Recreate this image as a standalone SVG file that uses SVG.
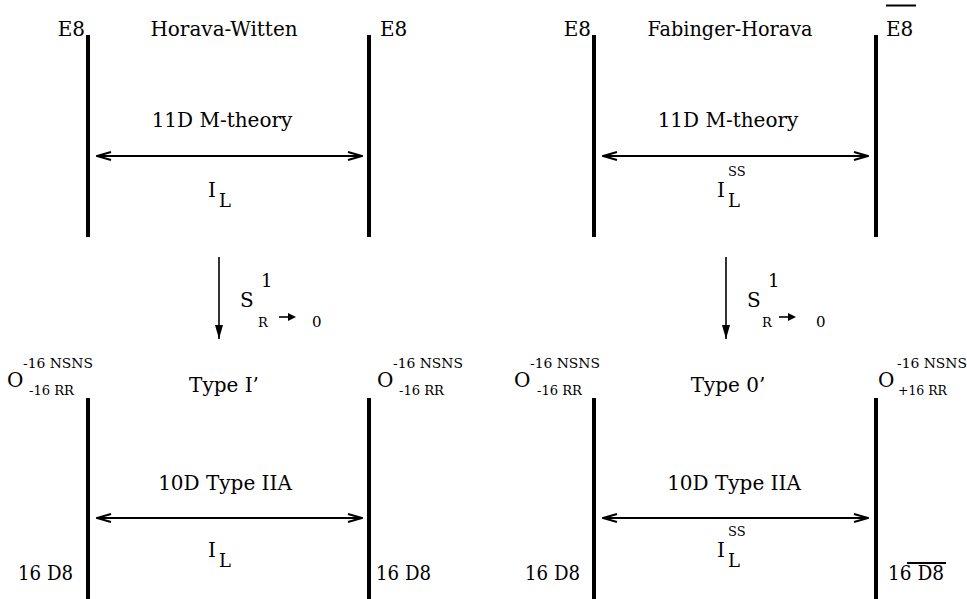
<svg xmlns="http://www.w3.org/2000/svg" width="967" height="599" viewBox="0 0 967 599">
  <style>
    .txt { font-family: "DejaVu Serif", serif; fill: #000; }
    .t { font-size: 20px; }
    .m { text-anchor: middle; }
    .e { text-anchor: end; }
    .s { font-size: 13px; }
    .sm { font-size: 15px; }
    .bar { stroke: #000; stroke-width: 4; }
    .conn { stroke: #000; stroke-width: 2; fill: none; }
    .down { stroke: #000; stroke-width: 1.6; fill: none; }
    .ol { stroke: #000; stroke-width: 2; }
  </style>
  <defs>
    <marker id="open" viewBox="0 0 16 10" refX="15" refY="5" markerWidth="16" markerHeight="10" markerUnits="userSpaceOnUse" orient="auto-start-reverse">
      <path d="M1,1 L15,5 L1,9" stroke="#000" stroke-width="2" fill="none"/>
    </marker>
    <marker id="solid" viewBox="0 0 8 14" refX="4" refY="14" markerWidth="8" markerHeight="14" markerUnits="userSpaceOnUse" orient="0">
      <path d="M0,0 L8,0 L4,14 Z" fill="#000"/>
    </marker>
    <marker id="small" viewBox="0 0 8 8" refX="0" refY="4" markerWidth="8" markerHeight="8" markerUnits="userSpaceOnUse" orient="auto">
      <path d="M0,0 L8,4 L0,8 Z" fill="#000"/>
    </marker>
  </defs>

  <g class="txt">
  <!-- Horava-Witten: M-theory on an interval -->
  <g id="hw-left-wall">
    <line class="bar" x1="88" y1="35" x2="88" y2="237"/>
    <text class="t e" x="85" y="36">E8</text>
  </g>
  <g id="hw-right-wall">
    <line class="bar" x1="369" y1="35" x2="369" y2="237"/>
    <text class="t" x="380" y="36">E8</text>
  </g>
  <g id="hw-bulk">
    <text class="t m" x="224" y="36">Horava-Witten</text>
    <text class="t m" x="222" y="127">11D M-theory</text>
    <text class="t" x="208" y="197">I</text>
    <text class="t" x="219" y="207" style="font-size:18px">L</text>
  </g>

  <!-- Fabinger-Horava: M-theory on an interval -->
  <g id="fh-left-wall">
    <line class="bar" x1="594" y1="35" x2="594" y2="237"/>
    <text class="t e" x="591" y="36">E8</text>
  </g>
  <g id="fh-right-wall">
    <line class="bar" x1="876" y1="35" x2="876" y2="237"/>
    <text class="t" x="886" y="36">E8</text>
    <line class="ol" x1="886" y1="5.5" x2="916" y2="5.5"/>
  </g>
  <g id="fh-bulk">
    <text class="t m" x="730" y="36" textLength="165" lengthAdjust="spacingAndGlyphs">Fabinger-Horava</text>
    <text class="t m" x="728" y="127">11D M-theory</text>
    <text class="t" x="717" y="197">I</text>
    <text class="s" x="728" y="176">SS</text>
    <text class="t" x="728" y="207" style="font-size:18px">L</text>
  </g>

  <!-- Reduction labels -->
  <g id="hw-reduction">
    <text class="t" x="240" y="307">S</text>
    <text class="sm" x="261" y="287" style="font-size:18px">1</text>
    <text class="s" x="258" y="327">R</text>
    <text class="sm" x="312" y="327">0</text>
  </g>
  <g id="fh-reduction">
    <text class="t" x="747" y="307">S</text>
    <text class="sm" x="768" y="287" style="font-size:18px">1</text>
    <text class="s" x="762" y="327">R</text>
    <text class="sm" x="816" y="327">0</text>
  </g>

  <!-- Type I': IIA on an interval -->
  <g id="ti-left-wall">
    <line class="bar" x1="88" y1="398" x2="88" y2="599"/>
    <text class="t" x="7" y="387">O</text>
    <text class="s" x="23" y="368" textLength="70" lengthAdjust="spacingAndGlyphs">-16 NSNS</text>
    <text class="s" x="29" y="395" textLength="45" lengthAdjust="spacingAndGlyphs">-16 RR</text>
    <text class="t" x="18" y="580" textLength="55" lengthAdjust="spacingAndGlyphs">16 D8</text>
  </g>
  <g id="ti-right-wall">
    <line class="bar" x1="369" y1="398" x2="369" y2="599"/>
    <text class="t" x="377" y="387">O</text>
    <text class="s" x="393" y="368" textLength="70" lengthAdjust="spacingAndGlyphs">-16 NSNS</text>
    <text class="s" x="399" y="395" textLength="45" lengthAdjust="spacingAndGlyphs">-16 RR</text>
    <text class="t" x="376" y="580" textLength="55" lengthAdjust="spacingAndGlyphs">16 D8</text>
  </g>
  <g id="ti-bulk">
    <text class="t m" x="224" y="392">Type I’</text>
    <text class="t m" x="225" y="490">10D Type IIA</text>
    <text class="t" x="208" y="557">I</text>
    <text class="t" x="219" y="567" style="font-size:18px">L</text>
  </g>

  <!-- Type 0': IIA on an interval -->
  <g id="t0-left-wall">
    <line class="bar" x1="594" y1="398" x2="594" y2="599"/>
    <text class="t" x="514" y="387">O</text>
    <text class="s" x="530" y="368" textLength="70" lengthAdjust="spacingAndGlyphs">-16 NSNS</text>
    <text class="s" x="537" y="395" textLength="45" lengthAdjust="spacingAndGlyphs">-16 RR</text>
    <text class="t" x="525" y="580" textLength="55" lengthAdjust="spacingAndGlyphs">16 D8</text>
  </g>
  <g id="t0-right-wall">
    <line class="bar" x1="876" y1="398" x2="876" y2="599"/>
    <text class="t" x="878" y="387">O</text>
    <text class="s" x="897" y="368" textLength="70" lengthAdjust="spacingAndGlyphs">-16 NSNS</text>
    <text class="s" x="898" y="395" textLength="49" lengthAdjust="spacingAndGlyphs">+16 RR</text>
    <text class="t" x="888" y="580" textLength="56" lengthAdjust="spacingAndGlyphs">16 D8</text>
    <line class="ol" x1="907" y1="563" x2="946" y2="563"/>
  </g>
  <g id="t0-bulk">
    <text class="t m" x="728" y="392">Type 0’</text>
    <text class="t m" x="734" y="490">10D Type IIA</text>
    <text class="t" x="717" y="557">I</text>
    <text class="s" x="728" y="536">SS</text>
    <text class="t" x="728" y="567" style="font-size:18px">L</text>
  </g>
  </g>

  <!-- Connectors -->
  <g id="connectors">
    <line class="conn" x1="97" y1="156" x2="362" y2="156" marker-start="url(#open)" marker-end="url(#open)"/>
    <line class="conn" x1="603" y1="156" x2="868" y2="156" marker-start="url(#open)" marker-end="url(#open)"/>
    <line class="conn" x1="97" y1="518" x2="362" y2="518" marker-start="url(#open)" marker-end="url(#open)"/>
    <line class="conn" x1="603" y1="518" x2="868" y2="518" marker-start="url(#open)" marker-end="url(#open)"/>
    <line class="down" x1="219" y1="257" x2="219" y2="339" marker-end="url(#solid)"/>
    <line class="down" x1="726" y1="257" x2="726" y2="339" marker-end="url(#solid)"/>
    <line class="down" x1="279" y1="317" x2="288" y2="317" stroke-width="2" marker-end="url(#small)"/>
    <line class="down" x1="779" y1="317" x2="788" y2="317" stroke-width="2" marker-end="url(#small)"/>
  </g>
</svg>
